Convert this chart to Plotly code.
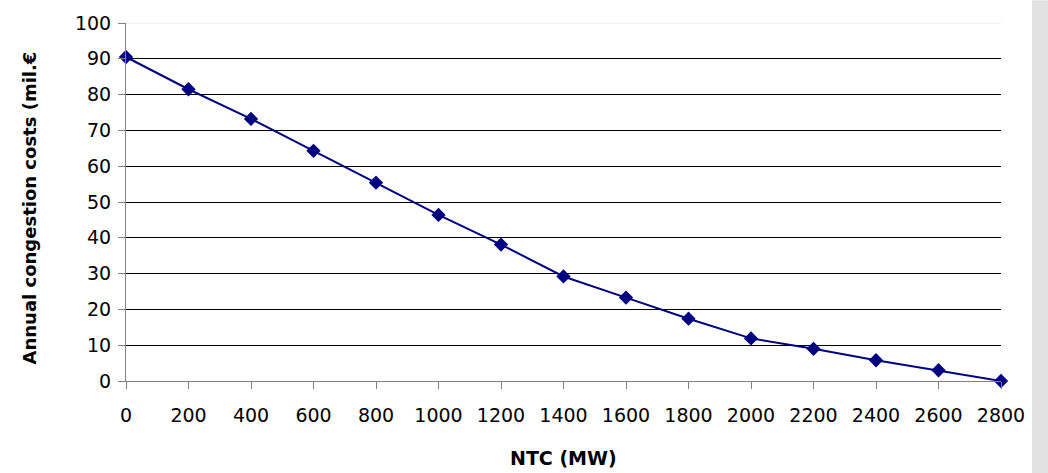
import plotly.graph_objects as go

ntc_mw = [0, 200, 400, 600, 800, 1000, 1200, 1400, 1600, 1800, 2000, 2200, 2400, 2600, 2800]
congestion_costs = [90.5, 81.5, 73.2, 64.3, 55.4, 46.4, 38.1, 29.2, 23.3, 17.4, 11.9, 9.0, 5.8, 3.0, 0.0]
x_ticks = list(range(0, 2801, 200))
y_ticks = list(range(0, 101, 10))

W, H = 1048, 473
L, R, T, B = 126, 47, 21, 92
pw, ph = W - L - R, H - T - B

fig = go.Figure()
fig.add_trace(go.Scatter(
    x=ntc_mw, y=congestion_costs, mode="lines+markers",
    line=dict(color="#000080", width=2),
    marker=dict(symbol="diamond", size=11, color="#000080"),
    showlegend=False, cliponaxis=False,
))

tickfont = dict(family="DejaVu Sans", size=19, color="black")
fig.update_layout(
    width=W, height=H,
    margin=dict(l=L, r=R, t=T, b=B),
    paper_bgcolor="white", plot_bgcolor="white",
    xaxis=dict(
        range=[0, 2800], tickvals=x_ticks, ticktext=[str(v) for v in x_ticks],
        showgrid=False, zeroline=False, showline=True, linecolor="#808080", linewidth=1,
        ticks="outside", ticklen=7, tickcolor="#808080", tickfont=tickfont,
        ticklabelstandoff=10,
    ),
    yaxis=dict(
        range=[0, 100], tickvals=y_ticks, ticktext=[str(v) for v in y_ticks],
        showgrid=True, gridcolor="#000000", gridwidth=1, zeroline=False,
        showline=True, linecolor="#808080", linewidth=1,
        ticks="outside", ticklen=7, tickcolor="#808080", tickfont=tickfont,
        ticklabelstandoff=3,
    ),
    shapes=[
        dict(type="line", xref="paper", yref="y", x0=0, x1=1, y0=100, y1=100,
             line=dict(color="#e4e4e4", width=1), layer="above"),
        dict(type="rect", xref="paper", yref="paper",
             x0=(1032 - L) / pw, x1=(1049 - L) / pw,
             y0=-(B + 2) / ph, y1=1 + (T + 2) / ph,
             fillcolor="#e2e2e2", line=dict(width=0), layer="below"),
    ],
    annotations=[
        dict(text="<b>Annual congestion costs (mil.€</b>", textangle=-90,
             xref="paper", yref="paper", x=(29 - L) / pw, y=(H - B - 207.5) / ph,
             xanchor="center", yanchor="middle", showarrow=False,
             font=dict(family="DejaVu Sans", size=18, color="black")),
        dict(text="<b>NTC (MW)</b>",
             xref="paper", yref="paper", x=0.5, y=-(458.5 - (H - B)) / ph,
             xanchor="center", yanchor="middle", showarrow=False,
             font=dict(family="DejaVu Sans", size=19, color="black")),
    ],
)

fig.write_html("out.html")
